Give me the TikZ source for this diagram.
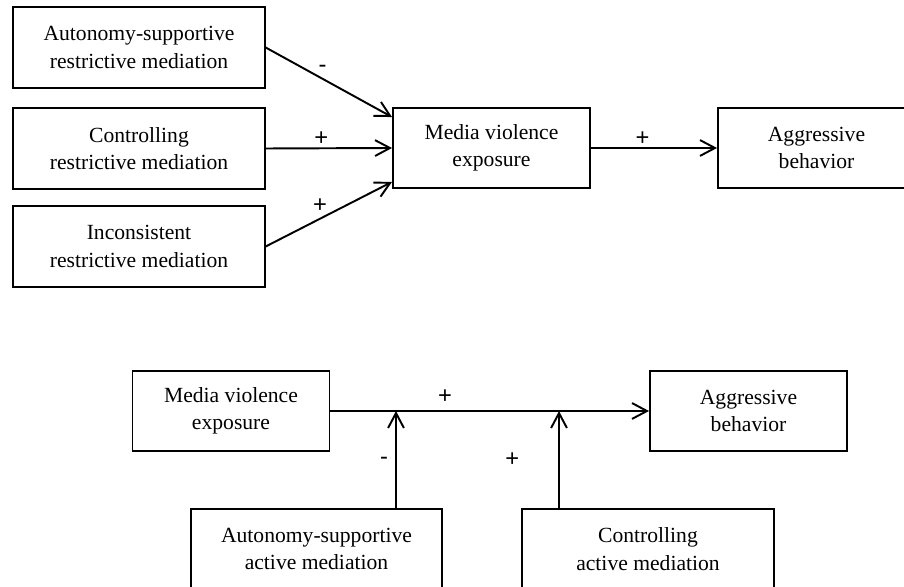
\documentclass[tikz,border=0pt]{standalone}
\usepackage{fontspec}
\setmainfont{Liberation Serif}
\newfontfamily\signfont{Liberation Sans}
\usetikzlibrary{arrows.meta}

\begin{document}
\begin{tikzpicture}[x=0.02cm, y=-0.02cm, line width=1.1pt, >={Straight Barb[length=8.5pt,width=9pt]},
  box/.style={draw, align=center, inner sep=0pt, font=\fontsize{12.3}{15.7}\selectfont},
  widebox/.style={box, minimum width=5.03cm, minimum height=1.61cm},
  smallbox/.style={box, minimum width=3.94cm, minimum height=1.6cm},
  sign/.style={font=\signfont\fontsize{13.5}{15}\selectfont, inner sep=0pt, anchor=base}]
\clip (0,0) rectangle (904,587);

\node[widebox] (arA) at (139,47.5) {Autonomy-supportive\\restrictive mediation};
\node[widebox] (arC) at (139,148.5) {Controlling\\restrictive mediation};
\node[widebox] (arI) at (139,246.5) {Inconsistent\\restrictive mediation};
\node[smallbox] (mve) at (491.5,148) {Media violence\\exposure};
\node[smallbox] (agg) at (816.5,148) {Aggressive\\behavior};

\draw[->] (arA.east) -- node[sign, pos=0.45, yshift=3.6pt] {-} ([yshift=17.6pt]mve.west);
\draw[->] (arC.east) -- node[sign, pos=0.44, yshift=1.3pt] {+} (mve.west);
\draw[->] (arI.east) -- node[sign, pos=0.43, yshift=3.8pt] {+} ([yshift=-19.3pt]mve.west);
\draw[->] (mve.east) -- node[sign, pos=0.41, yshift=1.3pt] {+} (agg.west);

\node[smallbox] (bmve) at (231,411) {Media violence\\exposure};
\node[smallbox] (bagg) at (748.5,411) {Aggressive\\behavior};
\node[widebox] (aaA) at (316.5,549) {Autonomy-supportive\\active mediation};
\node[widebox] (aaC) at (648,549) {Controlling\\active mediation};
\coordinate (j1) at (396,411);
\coordinate (j2) at (559,411);

\draw[->] (bmve.east) -- node[sign, pos=0.36, yshift=4pt] {+} (bagg.west);
\draw[->] (aaA.north -| j1) -- node[sign, pos=0.45, xshift=-6.8pt] {-} (j1);
\draw[->] (aaC.north -| j2) -- node[sign, pos=0.43, xshift=-26.6pt] {+} (j2);
\end{tikzpicture}
\end{document}
